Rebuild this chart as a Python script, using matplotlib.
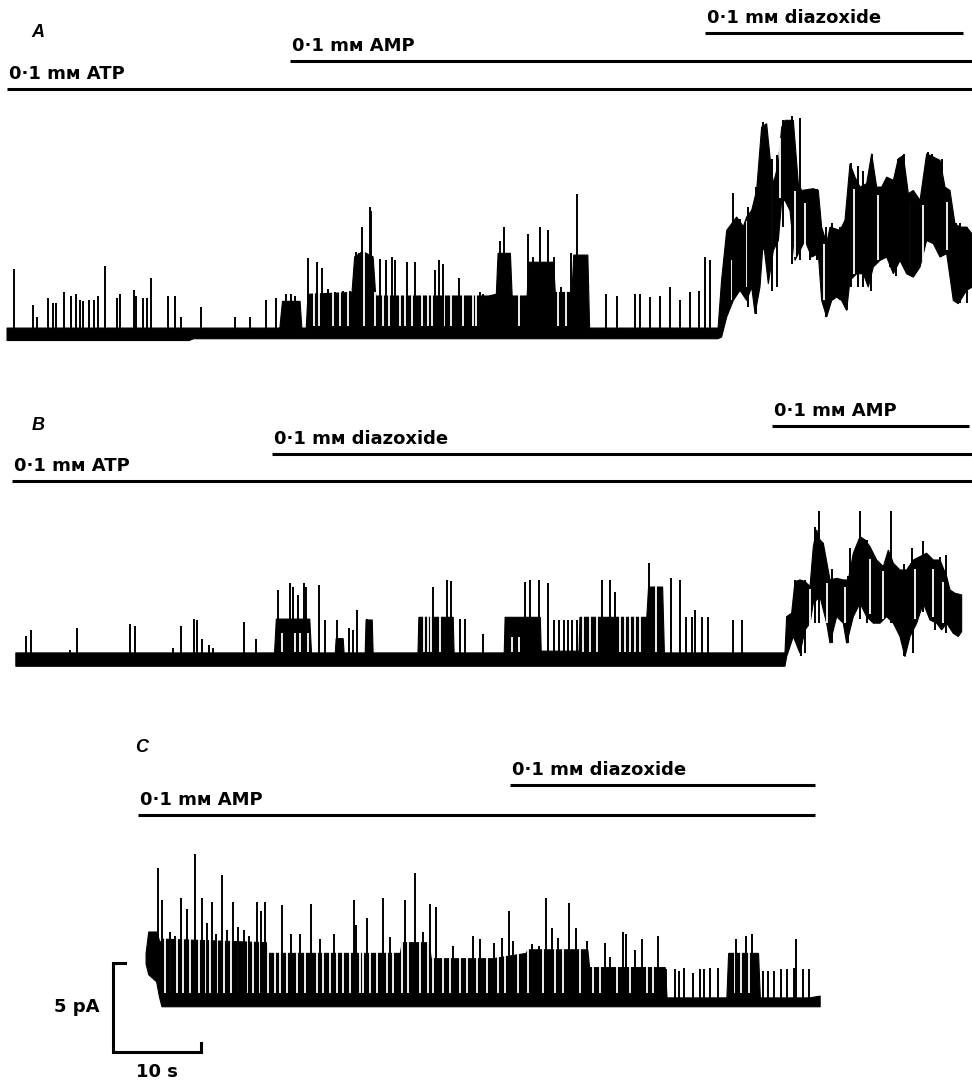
import numpy as np
import matplotlib
matplotlib.use("Agg")
import matplotlib.pyplot as plt

# single-channel records: time in s, current in pA above the closed level
# outline of the dense part of each trace (upper edge and lower edge)
a_top_t = [0.8, 31.8, 32.1, 34.1, 34.3, 34.8, 35.0, 40.0, 40.3, 41.2, 42.4, 42.7, 55.5, 56.4,
           56.6, 58.0, 58.2, 59.9, 60.1, 62.9, 63.1, 65.0, 65.2, 66.8, 67.0, 81.6, 82.0,
           82.58, 83.71, 84.47, 84.85, 85.42, 85.98, 86.55, 87.12, 87.5, 87.88, 88.45, 88.83,
           89.2, 90.15, 90.72, 91.1, 92.42, 92.99, 93.37, 93.94, 94.32, 95.45, 96.02, 96.59,
           97.16, 97.73, 98.48, 99.05, 99.62, 100.19, 100.76, 101.52, 102.08, 102.65, 103.22,
           103.79, 104.55, 105.3, 106.06, 106.82, 107.39, 107.95, 108.52, 109.09, 109.85, 110.45]
a_top = [0.3, 0.3, 1.8, 1.8, 0.3, 0.3, 2.2, 2.3, 4.3, 4.6, 4.3, 2.1, 2.1, 2.2,
         4.5, 4.5, 2.1, 2.1, 4.0, 4.0, 2.3, 2.3, 4.4, 4.4, 0.3, 0.3, 3.0,
         5.79, 6.54, 6.0, 6.54, 6.91, 8.03, 11.59, 11.78, 9.91, 8.41, 9.53, 11.59,
         11.97, 11.97, 8.41, 8.03, 8.13, 8.03, 5.97, 5.04, 5.97, 5.79, 6.35, 9.53,
         8.78, 8.22, 8.41, 10.09, 8.22, 8.22, 8.78, 8.6, 9.81, 10.0, 7.85,
         8.03, 7.47, 10.09, 9.91, 9.72, 8.22, 8.03, 6.16, 5.97, 5.97, 5.6]
a_bot_t = [0.8, 21.5, 22.0, 81.6, 82.0, 82.58, 83.33, 84.09, 84.85,
           85.42, 85.8, 86.36, 86.74, 87.31, 87.88, 88.45, 88.83, 89.2, 89.77, 90.34, 90.91,
           91.48, 92.23, 92.99, 93.37, 93.94, 94.51, 95.08, 95.64, 96.21, 96.59, 97.35, 98.11,
           98.67, 99.24, 100.0, 100.76, 101.52, 102.27, 103.03, 103.79, 104.55, 105.3, 106.06,
           106.82, 107.58, 108.33, 108.9, 109.85, 110.45]
a_bot = [-0.4, -0.4, -0.3, -0.3, -0.2, 0.92, 1.85, 2.42, 1.85,
         2.6, 1.1, 2.6, 5.22, 2.79, 4.66, 5.22, 7.47, 7.47, 6.91, 4.1, 4.66,
         5.22, 4.29, 4.48, 1.85, 0.92, 1.85, 2.04, 1.85, 1.29, 2.98, 3.35, 3.35,
         2.6, 3.73, 4.1, 4.29, 3.35, 4.1, 3.35, 3.16, 3.73, 5.22, 5.04,
         4.29, 4.48, 1.85, 1.67, 2.42, 2.6]
# closed gaps inside the dense parts (white): time, bottom, top
a_gap_t = [35.7, 36.3, 37.8, 38.6, 39.5, 41.4, 42.6, 43.5, 44.2, 45.4, 46.0, 46.8, 48.0, 48.6,
           49.1, 50.45, 51.3, 52.6, 53.7, 54.1, 59.0, 63.4, 64.3,
           83.2, 84.85, 87.7, 88.6, 90.3, 91.5, 93.6, 97.0, 99.8, 103.4, 104.9, 107.6]
a_gap_lo = [0.4] * 23 + [1.9, 2.6, 5.04, 7.6, 4.29, 5.04, 1.85, 3.35, 4.1, 3.73, 4.1, 4.66]
a_gap_hi = [2.4, 2.4, 2.4, 2.4, 2.4, 4.7, 2.3, 2.3, 2.3, 2.3, 2.3, 2.3, 2.3, 2.3,
            2.3, 2.3, 2.3, 2.3, 2.3, 2.3, 2.3, 2.4, 2.4,
            4.1, 6.3, 9.2, 11.0, 8.0, 7.3, 5.0, 8.1, 7.8, 7.4, 7.2, 7.4]
# single openings / spikes: time, bottom, top
a_spk_t = [1.6, 3.8, 4.2, 5.5, 6.0, 6.4, 7.3, 8.1, 8.6, 9.1, 9.4, 10.1, 10.7, 11.1, 11.9,
           13.3, 13.6, 15.2, 15.5, 16.3, 16.7, 17.2, 19.1, 19.9, 20.6, 22.8, 26.7, 28.4,
           30.2, 31.4, 32.5, 33.1, 33.5, 35.0, 36.0, 36.6, 37.3, 38.1, 39.0, 39.8, 40.5,
           40.8, 41.1, 42.0, 42.2, 43.2, 43.9, 44.5, 44.9, 46.3, 47.2, 49.4, 49.9, 50.3,
           52.2, 53.0, 54.5, 54.9, 55.5, 56.8, 57.3, 58.0, 60.0, 60.6, 61.4, 62.3, 62.9,
           63.8, 64.9, 65.6, 66.7, 68.9, 70.1, 72.2, 72.7, 73.9, 75.0, 76.1, 77.3, 78.4,
           79.4, 80.1, 80.7, 83.3, 84.1, 85.0, 85.9, 86.7, 87.7, 88.3, 89.0, 90.0, 90.9,
           92.0, 92.8, 93.9, 94.5, 95.5, 96.2, 96.7, 97.5, 98.1, 99.0, 99.1, 101.1, 101.8,
           102.1, 102.7, 103.4, 103.8, 105.5, 105.9, 106.4, 107.0, 108.6, 109.1, 109.9]
a_spk_lo = [0, 0, 0, 0, 0, 0, 0, 0, 0, 0, 0, 0, 0, 0, 0,
            0, 0, 0, 0, 0, 0, 0, 0, 0, 0, 0, 0, 0,
            0, 0, 0, 0, 0, 0, 0, 0, 0, 0, 0, 0, 0.8,
            0.8, 0.8, 0.8, 0.8, 0, 0, 0, 0, 0, 0, 0, 0, 0,
            0, 0, 0, 0, 0, 0.5, 0.5, 0, 0.3, 0.3, 0.3, 0.3, 0,
            0, 0, 0.3, 0, 0, 0, 0, 0, 0, 0, 0, 0, 0,
            0, 0, 0, 1.9, 2.6, 1.5, 1.1, 4.7, 2.4, 2.6, 6.0, 3.9, 4.1,
            4.1, 4.1, 0.9, 1.9, 1.9, 1.3, 2.6, 2.6, 2.6, 2.4, 3.7, 3.75, 3.2,
            4.1, 4.1, 3.75, 3.4, 5.2, 5.2, 5.2, 5.2, 1.9, 1.7, 1.7]
a_spk_hi = [3.6, 1.6, 0.9, 2.0, 1.7, 1.7, 2.3, 2.1, 2.2, 1.85, 1.8, 1.9, 1.9, 2.1, 3.8,
            2.0, 2.2, 2.45, 2.1, 2.0, 2.0, 3.1, 2.1, 2.1, 0.9, 1.5, 0.9, 0.9,
            1.9, 2.0, 2.2, 2.2, 2.1, 4.25, 4.0, 3.7, 2.5, 2.3, 2.4, 2.4, 4.6,
            4.5, 6.0, 7.1, 6.9, 4.2, 4.1, 4.3, 4.1, 4.0, 4.0, 3.55, 4.1, 3.9,
            3.1, 2.1, 2.3, 2.2, 2.1, 5.2, 6.0, 4.0, 5.6, 4.3, 6.0, 5.8, 4.3,
            2.6, 4.5, 7.85, 3.2, 2.2, 2.1, 2.2, 2.2, 2.05, 2.1, 2.6, 1.9, 2.3,
            2.4, 4.3, 4.1, 7.9, 6.4, 7.1, 8.2, 11.9, 9.8, 10.0, 12.0, 12.2, 12.1,
            8.1, 8.1, 6.0, 6.2, 6.0, 6.6, 9.6, 9.4, 9.1, 8.2, 10.1, 8.7, 8.2,
            9.8, 10.1, 7.5, 8.0, 10.2, 10.1, 9.8, 9.8, 6.2, 6.2, 6.0]

b_top_t = [1.8, 31.2, 31.4, 35.2, 35.4, 38.1, 38.2, 39.0, 39.1, 41.5, 41.6, 42.3, 42.4, 47.5,
           47.6, 51.5, 51.6, 57.3, 57.4, 61.4, 61.5, 65.8, 65.9, 73.5, 73.7, 75.3, 75.5, 89.2,
           89.39, 89.96, 90.34, 90.91, 91.48, 92.05, 92.42, 92.8, 93.18, 93.56, 94.32, 95.08,
           95.83, 96.4, 96.97, 97.73, 98.3, 98.86, 99.62, 100.38, 100.95, 101.52, 102.27,
           103.03, 103.79, 104.55, 105.3, 106.06, 106.82, 107.58, 107.95, 108.52, 109.28]
b_top = [0.3, 0.3, 2.2, 2.2, 0.3, 0.3, 1.1, 1.1, 0.3, 0.3, 2.15, 2.15, 0.3, 0.3,
         2.3, 2.3, 0.3, 0.3, 2.3, 2.3, 0.4, 0.4, 2.3, 2.3, 4.0, 4.0, 0.3, 0.3,
         2.34, 2.53, 4.31, 4.4, 4.31, 4.03, 6.27, 7.21, 6.65, 6.46, 4.4, 4.49,
         4.4, 4.4, 5.9, 6.83, 6.65, 6.27, 5.52, 5.15, 6.08, 5.34, 4.96,
         4.96, 5.52, 5.71, 5.9, 5.52, 5.52, 4.59, 3.84, 3.65, 3.56]
b_bot_t = [1.8, 89.2, 89.39, 90.15, 90.91, 91.48, 92.05, 92.42, 93.18, 93.94, 94.32, 95.08,
           95.83, 96.21, 96.97, 97.73, 98.48, 99.24, 100.0, 100.76, 101.52, 102.27, 102.84,
           103.41, 104.17, 104.92, 105.68, 106.44, 107.01, 107.58, 108.33, 108.9, 109.28]
b_bot = [-0.45, -0.45, 0.09, 1.22, 0.28, 1.59, 1.97, 3.09, 3.46, 1.97, 0.84, 2.34,
         1.97, 0.84, 2.34, 3.09, 2.34, 1.97, 1.97, 2.34, 1.97, 1.22, 0.09,
         1.22, 1.97, 3.09, 2.15, 1.97, 1.59, 1.97, 1.4, 1.22, 1.5]
b_gap_t = [32.0, 33.5, 34.1, 35.0, 48.2, 48.6, 49.0, 50.0, 58.2, 59.0, 66.3, 67.05, 67.8,
           70.45, 71.0, 71.6, 72.15, 72.75, 74.5,
           92.0, 94.0, 96.0, 98.9, 100.3, 104.0, 106.0, 107.2]
b_gap_lo = [0.35] * 19 + [1.6, 2.0, 2.0, 2.5, 2.2, 2.2, 2.3, 2.0]
b_gap_hi = [1.4, 1.4, 1.4, 1.4, 2.4, 2.4, 2.4, 2.4, 1.2, 1.2, 2.4, 2.4, 2.4,
            2.4, 2.4, 2.4, 2.4, 2.4, 4.1,
            3.9, 4.2, 4.0, 5.6, 4.9, 5.0, 5.0, 4.3]
b_spk_t = [3.0, 3.5, 8.0, 8.8, 14.8, 15.3, 19.7, 20.6, 22.1, 22.4, 22.9, 23.7, 24.2, 27.7,
           29.1, 31.6, 33.0, 33.3, 33.9, 34.5, 34.8, 36.2, 36.9, 38.3, 38.7, 39.7, 40.1,
           40.6, 41.7, 42.0, 49.2, 50.8, 51.3, 52.3, 52.8, 54.9, 59.7, 60.2, 61.2, 62.3,
           62.9, 63.5, 64.1, 64.6, 65.0, 65.6, 68.4, 69.3, 69.9, 73.7,
           76.3, 77.3, 78.0, 78.6, 79.0, 79.8, 80.5, 83.3, 84.3, 90.3, 91.0, 91.5, 92.6,
           93.1, 94.5, 96.4, 96.6, 97.7, 98.5, 101.3, 102.7, 103.6, 103.8, 104.9, 106.3,
           106.8, 107.5]
b_spk_lo = [0, 0, 0, 0, 0, 0, 0, 0, 0, 0, 0, 0, 0, 0,
            0, 0.3, 0.3, 0.3, 0.3, 0.3, 0.3, 0, 0, 0, 0, 0, 0,
            0, 0, 0, 0.3, 0.3, 0.3, 0, 0, 0, 0.3, 0.3, 0.3, 0,
            0, 0, 0, 0, 0, 0, 0.3, 0.3, 0.3, 0.2,
            0, 0, 0, 0, 0, 0, 0, 0, 0, 1.0, 0.1, 0.3, 2.0,
            2.0, 0.85, 0.85, 2.0, 2.2, 2.0, 2.0, 0.1, 2.0, 0.3, 2.6, 1.6,
            2.4, 1.4]
b_spk_hi = [1.25, 1.6, 0.45, 1.7, 1.9, 1.8, 0.55, 1.8, 2.2, 2.15, 1.1, 0.75, 0.55, 2.05,
            1.1, 3.85, 4.2, 4.0, 3.55, 4.2, 4.0, 4.1, 2.15, 2.15, 1.1, 1.7, 1.6,
            2.7, 2.2, 2.15, 4.0, 4.4, 4.35, 2.2, 2.2, 1.35, 4.3, 4.4, 4.4, 4.2,
            2.15, 2.15, 2.15, 2.15, 2.15, 2.15, 4.4, 4.4, 3.7, 5.35,
            4.5, 4.4, 2.3, 2.3, 2.7, 2.3, 2.3, 2.15, 2.15, 4.4, 2.8, 4.4, 7.4,
            8.3, 5.0, 4.6, 6.2, 8.3, 6.65, 8.3, 5.3, 6.2, 4.8, 6.6, 5.0,
            5.7, 5.8]

c_top_t = [16.6, 16.9, 17.8, 18.2, 18.5, 30.3, 30.5, 45.5, 45.7, 48.8, 49.0, 56.0, 59.8, 60.0,
           66.8, 67.0, 75.6, 75.8, 82.6, 82.8, 86.2, 86.4, 92.0, 93.2]
c_top = [2.8, 4.0, 4.0, 3.4, 3.6, 3.4, 2.8, 2.8, 3.4, 3.4, 2.5, 2.5, 2.8, 3.0,
         3.0, 2.0, 2.0, 0.3, 0.3, 2.8, 2.8, 0.3, 0.3, 0.4]
c_bot_t = [16.6, 16.9, 17.8, 18.1, 18.4, 93.2]
c_bot = [2.2, 1.6, 1.2, 0.4, -0.2, -0.2]
c_gap_t = [18.75, 19.32, 20.15, 20.83, 21.59, 22.6, 23.41, 23.86, 24.7, 25.45, 26.21, 27.08,
           28.22, 28.79, 29.55, 30.49, 31.25, 31.82, 32.58, 33.7, 34.66, 35.98, 36.74, 37.5,
           38.26, 39.02, 39.77, 40.9, 41.29, 42.05, 42.8, 43.94, 44.7, 45.64, 46.4, 47.73,
           48.67, 49.24, 50.38, 51.14, 52.27, 53.03, 54.17, 55.3, 56.6, 57.4, 58.9, 60.0,
           61.7, 63.1, 64.0, 65.9, 67.4, 68.2, 70.1, 71.6, 73.5, 74.2, 83.5, 84.2, 85.1]
c_gap_lo = [0.6] * len(c_gap_t)
c_gap_hi = [4.1] * len(c_gap_t)
c_spk_t = [18.0, 18.4, 19.3, 19.9, 20.6, 21.3, 22.2, 22.9, 23.5, 24.1, 24.6, 25.2, 25.8, 26.5,
           27.0, 27.7, 28.3, 29.2, 29.7, 30.1, 32.0, 33.1, 34.1, 35.3, 36.4, 37.9, 40.2,
           40.5, 41.7, 43.5, 44.3, 46.0, 47.2, 48.1, 48.9, 49.6, 51.5, 53.8, 54.5, 56.1,
           57.0, 57.8, 58.3, 59.5, 60.4, 61.2, 62.1, 62.7, 63.4, 64.7, 65.5, 66.7, 68.8,
           69.3, 70.8, 71.1, 72.2, 72.9, 74.8, 75.7, 76.7, 77.2, 77.7, 78.8, 79.5, 80.0,
           80.7, 81.6, 83.0, 83.6, 84.8, 85.5, 86.7, 87.3, 87.9, 88.8, 89.4, 90.2, 90.5,
           91.2, 91.9]
c_spk_hi = [7.6, 5.8, 4.0, 3.8, 5.9, 5.3, 8.4, 5.9, 4.5, 5.7, 3.9, 7.2, 4.1, 5.7,
            4.3, 4.1, 3.8, 5.7, 5.2, 5.7, 5.5, 3.9, 3.9, 5.6, 3.6, 3.9, 5.8,
            4.4, 4.8, 5.9, 3.7, 5.8, 7.3, 4.0, 5.6, 5.4, 3.2, 3.8, 3.6, 3.4,
            3.65, 5.2, 3.5, 2.5, 3.3, 3.2, 5.9, 4.2, 3.65, 5.65, 4.2, 3.5, 3.4,
            2.6, 4.0, 3.9, 3.0, 3.6, 3.8, 1.9, 1.9, 1.8, 2.0, 1.7, 1.9, 1.9,
            2.0, 2.0, 2.1, 3.6, 3.8, 3.9, 1.8, 1.8, 1.8, 1.9, 1.9, 2.0, 3.6,
            1.9, 1.9]
c_spk_lo = [1.2] + [0] * (len(c_spk_t) - 1)

# drug applications: label, start (s), end (s)
a_drugs = ["0·1 mᴍ ATP", "0·1 mᴍ AMP", "0·1 mᴍ diazoxide"]
a_on = [0.8, 33.0, 80.1]
a_off = [110.45, 110.45, 109.4]
b_drugs = ["0·1 mᴍ ATP", "0·1 mᴍ diazoxide", "0·1 mᴍ AMP"]
b_on = [1.4, 30.9, 87.7]
b_off = [110.45, 110.45, 110.1]
c_drugs = ["0·1 mᴍ AMP", "0·1 mᴍ diazoxide"]
c_on = [15.7, 58.0]
c_off = [92.6, 92.6]

scale_t = 10   # s
scale_i = 5    # pA

# page in record units: 88 px per 10 s, 17.8 px per pA
W, H = 972 / 8.8, 1081 / 17.8
fam = ["DejaVu Sans"]

fig = plt.figure(figsize=(9.72, 10.81), dpi=100)
ax = fig.add_axes([0, 0, 1, 1])
ax.set_xlim(0, W)
ax.set_ylim(0, H)
ax.axis("off")

panels = [
    ("A", 42.0, (3.6, 58.63),
     (a_top_t, a_top, a_bot_t, a_bot), (a_gap_t, a_gap_lo, a_gap_hi),
     (a_spk_t, a_spk_lo, a_spk_hi), a_drugs, a_on, a_off, [55.73, 57.30, 58.88]),
    ("B", 23.75, (3.6, 36.57),
     (b_top_t, b_top, b_bot_t, b_bot), (b_gap_t, b_gap_lo, b_gap_hi),
     (b_spk_t, b_spk_lo, b_spk_hi), b_drugs, b_on, b_off, [33.71, 35.22, 36.80]),
    ("C", 4.37, (15.3, 18.5),
     (c_top_t, c_top, c_bot_t, c_bot), (c_gap_t, c_gap_lo, c_gap_hi),
     (c_spk_t, c_spk_lo, c_spk_hi), c_drugs, c_on, c_off, [14.94, 16.63]),
]

for lab, base, lpos, edge, gaps, spk, drugs, on, off, bar_y in panels:
    tt, hi, tb, lo = edge
    xs = np.r_[tt, tb[::-1]]
    ys = base + np.r_[hi, lo[::-1]]
    ax.fill(xs, ys, facecolor="black", edgecolor="black", lw=0.8)
    gt, glo, ghi = gaps
    ax.vlines(gt, base + np.array(glo), base + np.array(ghi), color="white", lw=1.3)
    st, slo, shi = spk
    ax.vlines(st, base + np.array(slo), base + np.array(shi), color="black", lw=1.4)
    for name, t0, t1, y in zip(drugs, on, off, bar_y):
        ax.plot([t0, t1], [y, y], color="black", lw=2.2, solid_capstyle="butt")
        ax.text(t0 + 0.2, y + 0.55, name, fontsize=13, fontweight="bold",
                family=fam, ha="left", va="baseline")
    ax.text(lpos[0], lpos[1], lab, fontsize=13, fontstyle="italic", fontweight="bold",
            family=["Liberation Sans", "DejaVu Sans"], ha="left", va="baseline")

# calibration bars
x0, y0 = 12.88, 1.63
ax.plot([x0 + 1.36, x0, x0, x0 + scale_t, x0 + scale_t],
        [y0 + scale_i, y0 + scale_i, y0, y0, y0 + 0.5],
        color="black", lw=2.2, solid_joinstyle="miter")
ax.text(11.36, 3.85, f"{scale_i} pA", fontsize=13, fontweight="bold", family=fam,
        ha="right", va="baseline")
ax.text(x0 + scale_t / 2, 0.2, f"{scale_t} s", fontsize=13, fontweight="bold",
        family=fam, ha="center", va="baseline")

fig.savefig("out.png", dpi=100)
